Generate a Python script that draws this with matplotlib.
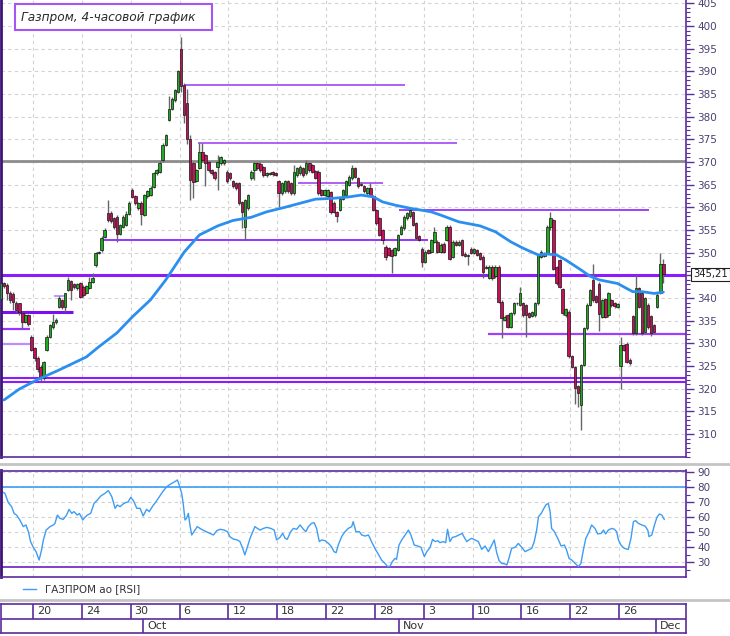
import matplotlib
matplotlib.use("Agg")
import matplotlib.pyplot as plt
from matplotlib.lines import Line2D
from matplotlib.patches import Rectangle
from matplotlib.transforms import blended_transform_factory, offset_copy
from matplotlib.ticker import MultipleLocator, FixedLocator, FixedFormatter

plt.rcParams['font.family'] = ['DejaVu Sans']

# ---------------- data (4-hour bars, index 0 = first bar on Sep 15) ----------------
opens = [
    339.7, 343.3, 342.8, 341.2, 340.9, 339.0, 338.8, 336.6, 334.8, 336.2,
    331.5, 328.9, 326.7, 324.8, 322.3, 328.5, 331.5, 333.7, 334.6, 338.1,
    339.6, 338.1, 341.8, 343.7, 343.1, 342.2, 343.2, 342.5, 341.0, 342.1,
    343.6, 347.3, 349.9, 350.5, 353.5, 358.8, 358.8, 357.6, 357.9, 354.1,
    355.7, 356.2, 358.5, 363.8, 362.5, 359.8, 361.0, 358.3, 362.4, 362.8,
    364.5, 367.5, 367.9, 370.4, 373.8, 379.3, 381.8, 383.6, 385.5, 394.9,
    387.0, 383.0, 375.0, 369.7, 365.8, 368.7, 372.2, 371.5, 370.0, 368.2,
    367.8, 368.9, 369.7, 369.7, 367.9, 367.5, 365.7, 365.3, 365.3, 361.2,
    355.7, 359.8, 366.4, 368.2, 369.7, 369.6, 368.9, 367.1, 367.4, 367.7,
    367.5, 365.7, 363.1, 363.5, 365.7, 365.3, 363.1, 367.1, 367.5, 368.6,
    367.5, 369.7, 369.3, 368.0, 367.9, 363.8, 362.7, 362.4, 363.4, 361.0,
    359.0, 359.4, 361.9, 362.7, 365.0, 366.4, 368.6, 366.4, 365.2, 364.6,
    363.1, 364.2, 362.4, 359.4, 357.6, 355.0, 351.3, 351.0, 350.5, 349.5,
    350.6, 354.2, 355.4, 357.6, 358.0, 359.0, 356.5, 353.7, 350.9, 348.0,
    350.5, 350.2, 352.4, 352.4, 350.2, 352.0, 352.8, 355.7, 349.1, 352.4,
    351.7, 352.8, 349.8, 349.3, 350.9, 349.9, 350.6, 349.9, 349.1, 346.9,
    344.5, 346.9, 344.8, 346.9, 339.2, 335.2, 336.2, 333.7, 336.6, 338.9,
    338.5, 338.8, 338.4, 336.6, 336.0, 336.2, 338.8, 349.1, 349.3, 349.9,
    355.7, 357.2, 346.8, 348.3, 342.0, 336.2, 337.0, 327.1, 324.8, 320.5,
    316.4, 325.2, 333.3, 338.5, 344.0, 340.4, 343.0, 335.9, 339.8, 336.2,
    339.5, 338.8, 338.0, 324.9, 329.6, 329.9, 326.4, 336.0, 332.2, 342.1,
    341.0, 332.5, 338.5, 336.0, 334.0, 338.1, 341.1, 347.6,
]
highs = [
    343.7, 343.6, 343.4, 341.5, 341.3, 339.4, 339.0, 337.0, 336.5, 336.5,
    331.8, 329.2, 327.3, 325.2, 326.0, 331.8, 334.3, 336.5, 335.5, 340.5,
    339.8, 341.2, 344.7, 344.0, 343.4, 343.3, 343.5, 342.8, 342.9, 344.6,
    345.5, 350.2, 350.4, 353.6, 355.4, 361.6, 359.1, 357.9, 358.2, 356.3,
    358.2, 359.2, 361.3, 364.2, 362.8, 361.2, 361.3, 363.0, 363.9, 364.6,
    367.8, 368.5, 370.3, 374.1, 376.2, 384.5, 384.3, 386.2, 390.3, 397.5,
    387.5, 386.0, 376.0, 370.0, 368.5, 374.3, 374.3, 371.8, 370.3, 368.5,
    368.1, 371.5, 371.4, 370.7, 368.2, 367.8, 366.0, 365.6, 365.6, 361.5,
    361.9, 363.0, 368.2, 370.0, 370.0, 369.9, 369.2, 367.8, 367.9, 368.0,
    367.8, 366.0, 365.6, 366.0, 366.0, 365.6, 369.3, 368.9, 369.3, 368.9,
    370.4, 370.0, 369.6, 368.3, 368.2, 364.1, 364.1, 364.1, 363.7, 361.3,
    359.3, 362.2, 364.1, 366.0, 367.1, 369.3, 368.9, 366.7, 365.5, 364.9,
    364.5, 365.3, 362.7, 359.7, 357.9, 355.3, 351.6, 351.3, 350.8, 351.3,
    354.2, 356.0, 358.2, 359.0, 359.8, 359.3, 356.8, 354.0, 351.2, 350.5,
    350.8, 353.1, 355.6, 352.7, 352.1, 352.3, 356.1, 356.0, 352.7, 352.7,
    352.7, 353.1, 350.1, 349.7, 351.2, 351.0, 350.9, 350.2, 349.4, 347.2,
    347.2, 347.2, 347.2, 347.2, 339.5, 336.2, 336.5, 336.9, 339.1, 339.2,
    342.5, 339.1, 338.7, 336.9, 337.1, 339.1, 349.8, 350.5, 350.2, 356.0,
    359.0, 357.5, 347.1, 348.6, 342.3, 337.8, 337.3, 327.4, 325.1, 320.8,
    325.5, 333.6, 338.8, 342.0, 347.6, 340.7, 343.5, 339.8, 340.1, 341.3,
    339.8, 339.1, 338.9, 331.5, 329.9, 330.2, 326.7, 336.3, 345.1, 342.4,
    341.3, 340.3, 338.8, 336.3, 334.3, 341.0, 349.9, 348.6,
]
lows = [
    339.4, 342.2, 339.6, 338.8, 337.3, 337.0, 336.3, 333.3, 334.5, 333.9,
    328.2, 326.0, 323.6, 321.6, 321.8, 328.2, 331.2, 333.2, 334.3, 337.8,
    337.6, 336.8, 341.5, 339.5, 342.0, 341.8, 339.9, 340.2, 340.8, 341.9,
    343.4, 346.9, 349.7, 350.2, 353.2, 356.8, 356.5, 355.3, 352.4, 353.8,
    355.4, 355.9, 358.2, 362.0, 360.6, 359.5, 356.1, 358.0, 362.1, 362.5,
    364.2, 367.2, 367.6, 370.1, 373.5, 379.0, 381.5, 383.3, 385.2, 385.5,
    378.6, 374.0, 361.6, 362.0, 365.5, 368.4, 370.1, 364.6, 367.9, 367.2,
    366.1, 363.8, 369.4, 369.4, 365.4, 366.1, 364.3, 363.9, 360.6, 355.4,
    352.8, 359.5, 366.1, 366.0, 368.3, 367.9, 366.8, 366.8, 367.1, 367.0,
    366.9, 360.1, 362.8, 363.2, 363.2, 362.8, 362.8, 366.8, 367.2, 366.8,
    367.2, 367.9, 367.6, 366.2, 362.8, 362.4, 362.4, 362.1, 358.5, 358.7,
    356.8, 359.1, 361.6, 362.4, 364.7, 366.1, 366.5, 364.3, 364.7, 363.2,
    362.8, 362.4, 359.1, 356.2, 353.6, 352.0, 348.4, 349.2, 345.5, 349.2,
    350.3, 353.9, 355.1, 357.3, 357.7, 355.8, 352.9, 352.5, 346.9, 347.7,
    349.7, 349.9, 352.1, 349.9, 349.9, 349.9, 352.5, 348.4, 348.8, 351.4,
    351.4, 349.2, 349.0, 347.3, 349.6, 349.6, 349.2, 348.4, 344.3, 346.3,
    344.2, 344.0, 344.5, 338.9, 331.1, 334.9, 333.4, 333.4, 336.3, 338.5,
    338.2, 335.9, 331.5, 335.6, 335.7, 335.9, 338.5, 348.8, 349.0, 349.6,
    355.0, 346.2, 342.9, 342.2, 336.3, 335.9, 326.8, 324.5, 316.7, 316.0,
    310.9, 324.9, 333.0, 338.2, 339.2, 338.9, 332.8, 335.6, 335.6, 335.9,
    338.1, 337.9, 337.7, 320.0, 328.3, 325.6, 325.3, 331.9, 331.9, 337.8,
    331.9, 332.2, 333.2, 331.6, 332.3, 337.7, 340.8, 343.2,
]
closes = [
    343.3, 342.6, 341.2, 339.6, 339.2, 337.4, 337.0, 334.8, 336.2, 334.3,
    328.5, 326.7, 324.3, 322.3, 325.8, 331.5, 334.0, 334.8, 335.2, 339.9,
    338.1, 341.0, 344.0, 341.8, 342.4, 343.0, 340.3, 340.7, 342.6, 343.6,
    344.3, 349.9, 350.2, 353.3, 355.1, 357.1, 356.9, 355.7, 354.1, 356.0,
    357.9, 358.5, 361.0, 362.3, 361.0, 360.9, 358.5, 362.7, 363.6, 364.3,
    367.5, 368.2, 369.7, 373.8, 375.9, 381.8, 384.0, 385.9, 390.0, 386.8,
    380.4, 375.0, 366.0, 365.6, 368.2, 372.2, 370.4, 369.7, 368.2, 367.5,
    366.4, 370.0, 371.1, 370.4, 365.7, 366.4, 364.6, 364.2, 360.9, 359.0,
    361.6, 362.7, 367.9, 369.7, 368.6, 368.2, 367.1, 367.5, 367.6, 367.3,
    367.2, 363.1, 365.3, 365.7, 363.5, 363.1, 367.9, 368.6, 369.0, 367.1,
    369.7, 368.2, 367.9, 366.5, 363.1, 362.7, 363.8, 363.8, 358.9, 359.0,
    358.0, 361.9, 363.8, 365.7, 366.8, 368.6, 366.8, 364.6, 365.0, 363.5,
    364.2, 362.7, 359.4, 356.5, 353.9, 352.8, 349.1, 349.5, 349.2, 351.0,
    353.9, 355.7, 357.9, 358.7, 359.4, 356.1, 353.2, 352.8, 348.0, 350.2,
    350.0, 352.8, 354.6, 350.2, 351.8, 350.2, 355.7, 348.7, 352.4, 351.7,
    352.4, 349.5, 349.3, 349.4, 349.9, 350.7, 349.5, 348.7, 345.8, 346.6,
    346.9, 344.3, 346.9, 339.2, 335.5, 335.9, 333.7, 336.6, 338.8, 338.8,
    341.0, 336.2, 336.2, 335.9, 336.8, 338.8, 349.5, 350.2, 349.9, 355.7,
    357.6, 346.5, 343.2, 342.5, 336.6, 337.5, 327.1, 324.8, 320.1, 319.1,
    325.2, 333.3, 338.5, 341.7, 339.5, 339.2, 336.5, 339.5, 335.9, 341.0,
    338.4, 338.2, 338.6, 329.6, 328.6, 325.9, 325.6, 332.2, 342.1, 338.1,
    332.2, 340.0, 333.5, 332.2, 332.6, 340.7, 347.6, 345.21,
]

# moving average read at sample bars
ma_bar = [1, 6, 12, 19, 28, 32, 38, 43, 49, 54, 60, 65, 71, 76, 82, 87, 93, 98, 103, 109,
          114, 118, 122, 125, 129, 134, 141, 144, 150, 157, 162, 167, 171, 176, 179, 182,
          185, 190, 193, 196, 202, 205, 207, 210, 214, 217]
ma_value = [317.5, 319.9, 322.0, 324.1, 327.0, 329.2, 332.3, 335.8, 339.6, 344.0,
            350.1, 353.9, 355.9, 357.1, 357.8, 359.0, 360.0, 360.9, 361.8, 362.0,
            362.3, 362.7, 362.3, 361.2, 360.5, 359.8, 359.0, 358.3, 356.8, 355.9,
            354.6, 352.4, 351.0, 349.5, 349.7, 349.5, 348.4, 346.2, 344.8, 344.0,
            343.2, 342.1, 341.4, 341.4, 341.0, 341.3]

# RSI readings (bar, value)
rsi_readings = [
    (0.2, 77.1), (1.3, 76.0), (2.4, 69.8), (3.5, 67.1), (4.3, 62.6), (5.1, 61.5), (6.2, 58.2), (7.3, 53.8), (8.2, 54.9), (9.0, 50.4),
    (9.7, 43.8), (10.6, 40.0), (11.5, 37.1), (12.5, 31.5), (13.3, 38.2), (13.9, 44.9), (14.8, 51.5), (16.1, 53.8), (17.2, 54.9), (17.7, 56.0),
    (18.5, 61.5), (19.3, 59.3), (20.4, 58.6), (21.5, 61.5), (22.3, 65.3), (23.2, 62.6), (23.9, 63.8), (25.0, 61.5), (25.7, 62.6), (26.8, 58.2),
    (27.5, 60.0), (28.3, 61.5), (29.4, 62.6), (30.5, 69.3), (31.6, 71.5), (32.7, 74.2), (34.1, 76.0), (35.2, 77.8), (36.3, 73.8), (37.4, 66.0),
    (38.1, 68.2), (39.0, 67.1), (40.3, 69.3), (41.7, 70.4), (42.5, 73.3), (43.4, 71.1), (44.5, 66.0), (45.6, 66.0), (46.6, 60.9), (47.7, 65.3),
    (48.6, 63.8), (49.7, 67.5), (50.8, 70.4), (51.9, 73.8), (53.0, 77.1), (54.3, 80.4), (55.6, 82.2), (57.0, 83.8), (57.8, 84.9), (58.4, 81.5),
    (59.2, 76.0), (59.7, 69.3), (60.3, 58.2), (60.8, 59.3), (61.4, 62.6), (61.9, 54.9), (62.5, 48.2), (63.2, 50.4), (64.3, 53.8), (65.2, 52.6),
    (66.5, 51.1), (67.9, 49.8), (69.6, 48.2), (70.7, 51.1), (71.8, 52.0), (73.1, 51.5), (74.2, 50.4), (75.0, 47.1), (76.1, 45.5), (77.4, 44.9),
    (78.3, 43.8), (79.2, 39.3), (79.9, 34.9), (80.7, 40.0), (81.6, 46.0), (82.5, 50.4), (83.2, 53.8), (84.0, 52.6), (84.9, 51.5), (86.0, 52.6),
    (87.1, 53.3), (88.4, 52.6), (89.5, 51.5), (90.3, 44.9), (91.4, 46.6), (92.3, 49.3), (93.1, 46.0), (93.8, 45.3), (94.9, 50.4), (95.8, 52.6),
    (96.9, 52.0), (98.0, 54.9), (99.1, 52.0), (99.9, 50.4), (100.7, 53.8), (101.8, 56.0), (102.6, 56.4), (103.4, 52.6), (104.3, 43.8), (105.1, 44.9),
    (106.2, 44.4), (107.3, 42.6), (108.3, 40.4), (109.1, 37.1), (109.8, 36.4), (110.5, 41.5), (111.6, 47.1), (112.7, 50.4), (113.8, 52.6), (114.9, 53.8),
    (115.4, 57.1), (116.3, 50.4), (117.4, 50.4), (118.2, 48.2), (119.3, 47.5), (120.4, 48.2), (121.4, 43.8), (122.5, 39.3), (123.6, 35.5), (124.7, 31.5),
    (125.8, 29.3), (126.7, 27.1), (127.5, 27.5), (128.2, 30.4), (129.1, 32.6), (129.6, 32.0), (130.4, 41.5), (131.3, 44.9), (132.4, 48.2), (133.5, 51.5),
    (134.3, 48.2), (135.4, 41.5), (136.5, 40.9), (137.6, 40.0), (138.7, 33.8), (139.5, 37.1), (140.6, 40.0), (141.4, 45.3), (142.2, 43.8), (143.1, 44.4),
    (143.8, 43.1), (144.9, 43.8), (145.7, 43.1), (146.3, 52.0), (147.1, 43.8), (147.9, 46.6), (148.9, 47.1), (150.0, 48.2), (151.1, 49.3), (151.8, 46.6),
    (152.6, 43.8), (153.3, 44.9), (154.2, 46.0), (155.3, 44.9), (156.4, 43.8), (157.5, 38.6), (158.6, 40.9), (159.7, 37.1), (160.8, 41.5), (161.6, 44.9),
    (162.4, 36.4), (163.2, 31.1), (164.0, 29.3), (165.1, 28.9), (165.7, 28.2), (166.4, 32.6), (167.3, 39.3), (168.4, 40.0), (169.5, 42.6), (170.6, 40.0),
    (171.7, 37.1), (172.8, 38.2), (173.9, 39.3), (174.7, 43.8), (175.5, 51.5), (176.1, 60.4), (177.0, 62.6), (177.7, 65.3), (178.5, 68.2), (179.3, 69.3),
    (179.9, 63.8), (180.4, 52.6), (181.3, 50.4), (182.4, 46.0), (183.5, 40.9), (184.6, 41.5), (185.3, 38.2), (186.1, 32.6), (187.0, 31.5), (188.1, 29.3),
    (189.2, 27.1), (190.0, 29.3), (190.8, 38.2), (191.6, 46.0), (192.7, 50.4), (193.5, 54.9), (194.6, 52.6), (195.5, 48.9), (196.6, 49.3), (197.4, 51.5),
    (198.1, 48.9), (199.0, 51.5), (200.1, 52.6), (201.0, 52.0), (201.7, 50.4), (202.3, 44.9), (203.1, 41.5), (204.2, 39.3), (205.5, 38.6), (206.4, 46.0),
    (207.2, 57.1), (207.9, 57.8), (208.8, 56.0), (209.9, 54.9), (211.0, 54.2), (211.9, 51.5), (212.3, 47.1), (213.2, 48.2), (214.1, 54.9), (214.9, 60.0),
    (215.7, 62.2), (216.5, 61.5), (217.3, 58.6),
]
rsi_upper = 80
rsi_lower = 26.6

# horizontal support / resistance levels: price, first bar, last bar
seg_price = [387.0, 374.3, 365.3, 359.45, 352.7, 340.5, 336.95, 333.05, 329.95, 332.1]
seg_start = [60.3, 64.6, 97.4, 130.5, 33.4, 17.4, 0.0, 0.0, 0.0, 159.6]
seg_end = [132.4, 149.4, 125.3, 212.3, 139.9, 21.3, 23.6, 9.5, 9.5, 225.0]
full_levels = [345.15, 322.3, 321.4]
gray_level = 370.15

day_labels = ['20', '24', '30', '6', '12', '18', '22', '28', '3', '10', '16', '22', '26']
day_offsets = [0, 4, 8, 12, 16, 20, 24, 28, 32, 36, 40, 44, 48]   # trading days after Sep 20
month_labels = ['Oct', 'Nov', 'Dec']
month_offsets = [9, 30, 51]
BARS_PER_DAY = 4
SEP20_BAR = 10.5

price_ticks = list(range(310, 406, 5))
rsi_ticks = list(range(30, 91, 10))

title = 'Газпром, 4-часовой график'
legend_label = 'ГАЗПРОМ ао [RSI]'

# ---------------- layout ----------------
W, H = 730, 636
fig = plt.figure(figsize=(W / 100, H / 100), dpi=100)
fig.patch.set_facecolor('white')


def rect(x0, y0, x1, y1):
    return [x0 / W, 1 - y1 / H, (x1 - x0) / W, (y1 - y0) / H]


BAR_PX, BAR0_PX = 3.0525, 0.95
XLIM = ((1 - BAR0_PX) / BAR_PX, (686 - BAR0_PX) / BAR_PX)

FRAME = '#3c1478'
AXCOL = '#5b2c9c'
LBL = '#4a4070'
GRID = '#d2d2d2'
DASH = (0, (3, 3))
GREEN = '#1faa1f'
PINK = '#c8105a'
BLUE = '#2b8ff0'
RSI_BLUE = '#3d9df5'

day_bars = [SEP20_BAR + BARS_PER_DAY * d for d in day_offsets]
month_bars = [SEP20_BAR + BARS_PER_DAY * d for d in month_offsets]

# ---------------- price panel ----------------
ax = fig.add_axes(rect(1, 0, 686, 457))
ax.set_xlim(*XLIM)
ax.set_ylim(304.92, 405.74)
for p in range(305, 406, 5):
    ax.axhline(p, color=GRID, lw=0.8, ls=DASH, zorder=0)
for b in day_bars:
    ax.axvline(b, color=GRID, lw=0.8, ls=DASH, zorder=0)

ax.axhline(gray_level, color='#8c8c8c', lw=2, zorder=1)
seg_colors = ['#a855f7', '#a855f7', '#a855f7', '#a040ff', '#9933ff', '#c08cff',
              '#7a10f0', '#9933ff', '#c08cff', '#a040ff']
seg_widths = [1.3, 1.3, 1.3, 1.4, 1.4, 1.3, 2.2, 1.6, 1.6, 1.6]
for p, s, e, c, w in zip(seg_price, seg_start, seg_end, seg_colors, seg_widths):
    ax.hlines(p, max(s, XLIM[0]), min(e, XLIM[1]), color=c, lw=w, zorder=1.5)
for p, w in zip(full_levels, [2.2, 1.5, 1.5]):
    ax.axhline(p, color='#8a1cff', lw=w, zorder=1.5)

idx = list(range(len(closes)))
ax.vlines(idx, lows, highs, color='#666666', lw=1.0, zorder=2)
bottoms = [min(o, c) for o, c in zip(opens, closes)]
heights = [max(abs(c - o), 0.12) for o, c in zip(opens, closes)]
colors = [GREEN if c >= o else PINK for o, c in zip(opens, closes)]
ax.bar(idx, heights, bottom=bottoms, width=0.82, color=colors,
       edgecolor='#151515', linewidth=0.5, zorder=3)

ax.plot(ma_bar, ma_value, color=BLUE, lw=2.0, zorder=4, solid_capstyle='round')

last_price = closes[-1]
ax.yaxis.tick_right()
ax.yaxis.set_major_locator(FixedLocator(price_ticks))
ax.yaxis.set_major_formatter(FixedFormatter(
    ['' if abs(t - last_price) < 2.5 else str(t) for t in price_ticks]))
ax.yaxis.set_minor_locator(MultipleLocator(1))
ax.tick_params(axis='y', which='major', length=6, width=1, color=AXCOL,
               labelsize=7.5, labelcolor=LBL, pad=2)
ax.tick_params(axis='y', which='minor', length=3, width=0.8, color=AXCOL)
ax.set_xticks([])
ax.spines['top'].set_visible(False)
ax.spines['left'].set_color(FRAME)
ax.spines['left'].set_linewidth(2)
for s in ('right', 'bottom'):
    ax.spines[s].set_color(AXCOL)
    ax.spines[s].set_linewidth(1.2)

# current price label
tr = offset_copy(blended_transform_factory(ax.transAxes, ax.transData), fig=fig, x=7, y=0, units='dots')
ax.text(1.0, last_price, f"{last_price:.2f}".replace('.', ','), transform=tr,
        ha='left', va='center', fontsize=7.2, color='#202020', clip_on=False, zorder=10,
        bbox=dict(boxstyle='square,pad=0.18', fc='white', ec='#202020', lw=0.8))

# title box
fig.add_artist(Rectangle((15 / W, 1 - 30 / H), 197 / W, 26 / H, transform=fig.transFigure,
                         fc='white', ec='#a555f5', lw=1.5, zorder=10))
fig.text(21 / W, 1 - 17.5 / H, title, style='italic', fontsize=8.7, color='#2a2a2a',
         ha='left', va='center', zorder=11)

# ---------------- RSI panel ----------------
ax2 = fig.add_axes(rect(1, 470.5, 686, 577))
ax2.set_xlim(*XLIM)
ax2.set_ylim(20.2, 91.2)
for v in rsi_ticks:
    ax2.axhline(v, color=GRID, lw=0.8, ls=DASH, zorder=0)
for b in day_bars:
    ax2.axvline(b, color=GRID, lw=0.8, ls=DASH, zorder=0)
ax2.axhline(rsi_upper, color=RSI_BLUE, lw=1.2, zorder=1)
ax2.axhline(rsi_lower, color='#6a1fc0', lw=1.2, zorder=1)
rsi_bar = [r[0] for r in rsi_readings]
rsi_value = [r[1] for r in rsi_readings]
ax2.plot(rsi_bar, rsi_value, color=RSI_BLUE, lw=1.0, zorder=2)
ax2.yaxis.tick_right()
ax2.yaxis.set_major_locator(FixedLocator(rsi_ticks))
ax2.yaxis.set_minor_locator(MultipleLocator(5))
ax2.tick_params(axis='y', which='major', length=6, width=1, color=AXCOL,
                labelsize=7.5, labelcolor=LBL, pad=2)
ax2.tick_params(axis='y', which='minor', length=3, width=0.8, color=AXCOL)
ax2.set_xticks([])
ax2.spines['left'].set_color(FRAME)
ax2.spines['left'].set_linewidth(2)
for s in ('right', 'bottom', 'top'):
    ax2.spines[s].set_color(AXCOL)
    ax2.spines[s].set_linewidth(1.2)

# legend
fig.add_artist(Line2D([23 / W, 36 / W], [1 - 589 / H] * 2, transform=fig.transFigure,
                      color=RSI_BLUE, lw=1.0))
fig.text(45 / W, 1 - 589 / H, legend_label, fontsize=7.5, color='#333333',
         ha='left', va='center')

# separators
for yy in (463.5, 599.5):
    fig.add_artist(Line2D([0, 1], [1 - yy / H] * 2, transform=fig.transFigure,
                          color='#c4c4c4', lw=2))

# ---------------- date axis ----------------
ax3 = fig.add_axes(rect(1, 604, 686, 633))
ax3.set_xlim(*XLIM)
ax3.set_ylim(0, 1)
ax3.set_xticks([])
ax3.set_yticks([])
for s in ax3.spines.values():
    s.set_color(AXCOL)
    s.set_linewidth(1.2)
ax3.axhline(0.5, color=AXCOL, lw=1.2)
lab_tr = offset_copy(ax3.transData, fig=fig, x=4, y=0, units='dots')
ax3.vlines(day_bars, 0.5, 1.0, color=AXCOL, lw=1.2)
for b, t in zip(day_bars, day_labels):
    ax3.text(b, 0.75, t, transform=lab_tr, ha='left', va='center', fontsize=8, color='#333333')
ax3.vlines(month_bars, 0.0, 0.5, color=AXCOL, lw=1.2)
for b, t in zip(month_bars, month_labels):
    ax3.text(b, 0.25, t, transform=lab_tr, ha='left', va='center', fontsize=8, color='#333333')

fig.savefig('out.png', dpi=100)
